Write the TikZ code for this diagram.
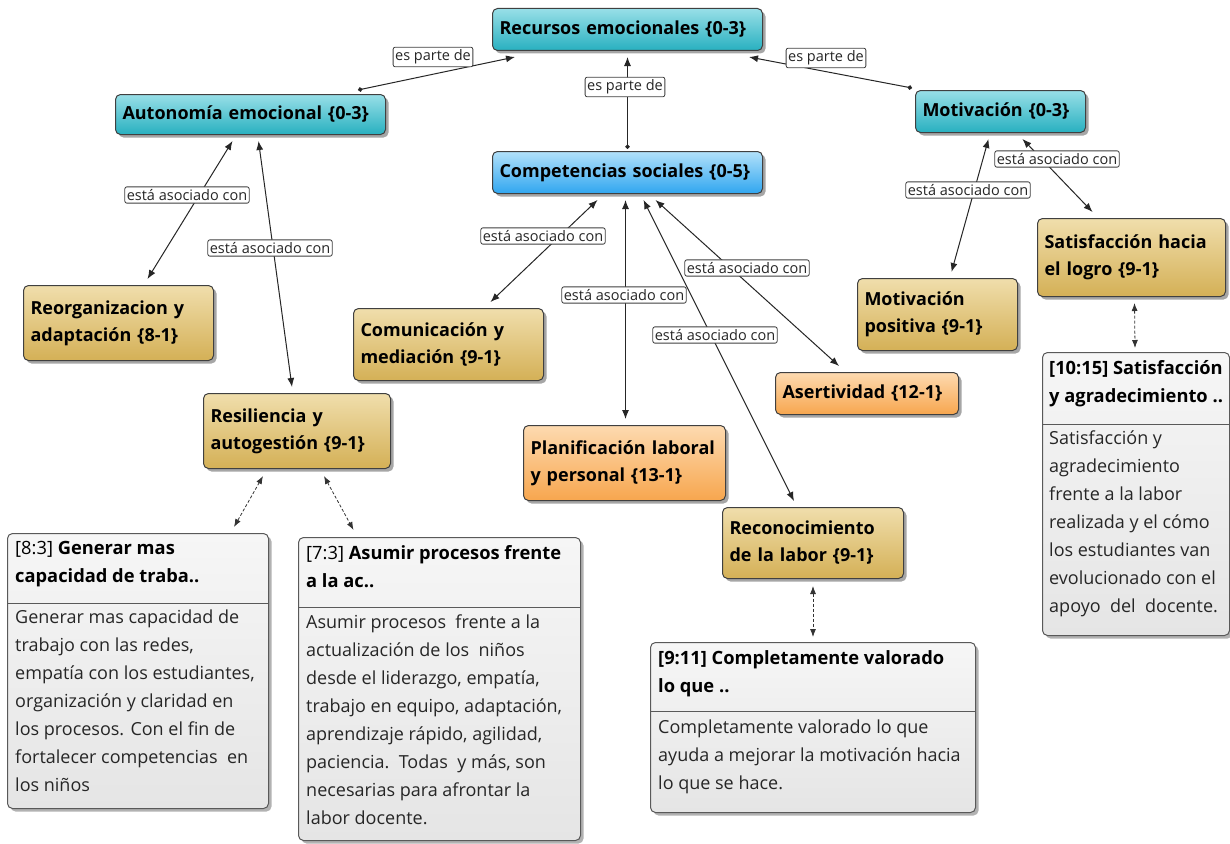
\documentclass[tikz,border=0pt]{standalone}
\usepackage{fontspec}
\setmainfont{Open Sans}
\setsansfont{Open Sans}
\usetikzlibrary{positioning,arrows.meta,shadows}
\definecolor{cyantop}{RGB}{152,223,231}
\definecolor{cyanbot}{RGB}{40,176,192}
\definecolor{bluetop}{RGB}{178,225,250}
\definecolor{bluebot}{RGB}{48,166,240}
\definecolor{tantop}{RGB}{240,222,172}
\definecolor{tanbot}{RGB}{212,176,86}
\definecolor{orangetop}{RGB}{253,218,176}
\definecolor{orangebot}{RGB}{247,166,78}
\definecolor{memotop}{RGB}{246,246,246}
\definecolor{memobot}{RGB}{229,229,229}
\tikzset{concept/.style={draw=black!75, line width=1pt, rounded corners=5pt, anchor=north west,
    align=left, inner xsep=7pt, inner ysep=4pt,
    drop shadow={shadow xshift=3pt, shadow yshift=-3pt, opacity=0.35, fill=black},
    font=\fontsize{18}{27}\selectfont\bfseries}}
\tikzset{cyanbox/.style={concept, top color=cyantop, bottom color=cyanbot},
  bluebox/.style={concept, top color=bluetop, bottom color=bluebot},
  tanbox/.style={concept, top color=tantop, bottom color=tanbot},
  orangebox/.style={concept, top color=orangetop, bottom color=orangebot}}
\tikzset{memo/.style={draw=black!65, line width=1pt, rounded corners=5pt, anchor=north west,
    top color=memotop, bottom color=memobot,
    drop shadow={shadow xshift=3pt, shadow yshift=-3pt, opacity=0.3, fill=black}},
  memohead/.style={anchor=north west, inner sep=0pt, align=left, font=\fontsize{18.3}{28}\selectfont\bfseries},
  memotext/.style={anchor=north west, inner sep=0pt, align=left, text=black!85, font=\fontsize{18}{28}\selectfont},
  memorule/.style={draw=black!65, line width=1pt}}
\tikzset{lab/.style={draw=black!75, fill=white, rounded corners=2pt, line width=0.8pt,
    inner xsep=2pt, inner ysep=2.5pt, text=black!85, font=\fontsize{14.5}{15}\selectfont},
  rel/.style={draw=black!85, line width=1pt, {Latex[length=9pt,width=7pt]}-{Latex[length=9pt,width=7pt]}},
  part/.style={draw=black!85, line width=1pt, {Circle[length=4.5pt]}-{Latex[length=9pt,width=7pt]}},
  memolink/.style={draw=black!80, line width=0.8pt, dash pattern=on 3pt off 2pt,
    {Latex[length=8pt,width=6pt]}-{Latex[length=8pt,width=6pt]}}}

\begin{document}
\begin{tikzpicture}[x=1pt,y=-1pt]
\useasboundingbox[fill=white] (0,0) rectangle (1230,843);

\node[cyanbox, text width=256pt, minimum height=42pt] (rec) at (492,8) {Recursos emocionales \{0-3\}};
\node[cyanbox, text width=256pt, minimum height=40pt] (auto) at (115,94) {Autonomía emocional \{0-3\}};
\node[cyanbox, text width=156pt, minimum height=42pt] (mot) at (915,90) {Motivación \{0-3\}};
\node[bluebox, text width=256pt, minimum height=42pt] (comp) at (492,151) {Competencias sociales \{0-5\}};
\node[tanbox, text width=176pt, minimum height=75pt] (reorg) at (23,285) {Reorganizacion y\\adaptación \{8-1\}};
\node[tanbox, text width=173pt, minimum height=75pt] (resil) at (203,393) {Resiliencia y\\autogestión \{9-1\}};
\node[tanbox, text width=176pt, minimum height=72pt] (comun) at (353,308) {Comunicación y\\mediación \{9-1\}};
\node[orangebox, text width=188pt, minimum height=75pt] (plan) at (523,425) {Planificación laboral\\y personal \{13-1\}};
\node[orangebox, text width=169pt, minimum height=42pt] (aser) at (775,372) {Asertividad \{12-1\}};
\node[tanbox, text width=167pt, minimum height=71pt] (recon) at (722,507) {Reconocimiento\\de la labor \{9-1\}};
\node[tanbox, text width=146pt, minimum height=72pt] (motpos) at (857,278) {Motivación\\positiva \{9-1\}};
\node[tanbox, text width=174pt, minimum height=78pt] (satis) at (1037,218) {Satisfacción hacia\\el logro \{9-1\}};

% citas
\node[memo, minimum width=261pt, minimum height=275pt] (m83) at (7,533) {};
\node[memohead] (m83h) at ([shift={(8pt,-8pt)}]m83.north west) {{\mdseries[8:3]} Generar mas\\capacidad de traba..};
\coordinate (m83d) at ([yshift=-70pt]m83.north west);
\draw[memorule] (m83d) -- (m83d -| m83.east);
\node[memotext] (m83b) at ([shift={(8pt,-7pt)}]m83d) {Generar mas capacidad de\\trabajo con las redes,\\empatía con los estudiantes,\\organización y claridad en\\los procesos. Con el fin de\\fortalecer competencias\ \ en\\los niños};

\node[memo, minimum width=282pt, minimum height=303pt] (m73) at (298,537) {};
\node[memohead] (m73h) at ([shift={(8pt,-8pt)}]m73.north west) {{\mdseries[7:3]} Asumir procesos frente\\a la ac..};
\coordinate (m73d) at ([yshift=-70pt]m73.north west);
\draw[memorule] (m73d) -- (m73d -| m73.east);
\node[memotext] (m73b) at ([shift={(8pt,-8pt)}]m73d) {Asumir procesos\ \ frente a la\\actualización de los\ \ niños\\desde el liderazgo, empatía,\\trabajo en equipo, adaptación,\\aprendizaje rápido, agilidad,\\paciencia.\ \ Todas\ \ y más, son\\necesarias para afrontar la\\labor docente.};

\node[memo, minimum width=325pt, minimum height=170pt] (m911) at (650,642) {};
\node[memohead] (m911h) at ([shift={(8pt,-8pt)}]m911.north west) {[9:11] Completamente valorado\\lo que ..};
\coordinate (m911d) at ([yshift=-69pt]m911.north west);
\draw[memorule] (m911d) -- (m911d -| m911.east);
\node[memotext] (m911b) at ([shift={(8pt,-9pt)}]m911d) {Completamente valorado lo que\\ayuda a mejorar la motivación hacia\\lo que se hace.};

\node[memo, minimum width=187pt, minimum height=283pt] (m1015) at (1042,352) {};
\node[memohead] (m1015h) at ([shift={(7pt,-8pt)}]m1015.north west) {[10:15] Satisfacción\\y agradecimiento ..};
\coordinate (m1015d) at ([yshift=-72pt]m1015.north west);
\draw[memorule] (m1015d) -- (m1015d -| m1015.east);
\node[memotext] (m1015b) at ([shift={(7pt,-7pt)}]m1015d) {Satisfacción y\\agradecimiento\\frente a la labor\\realizada y el cómo\\los estudiantes van\\evolucionado con el\\apoyo\ \ del\ \ docente.};

% enlaces
\draw[part] ([xshift=-28pt,yshift=4pt]auto.north east) -- ([xshift=23pt,yshift=-6pt]rec.south west);
\draw[part] ([yshift=2pt]comp.north) -- ([yshift=-6pt]rec.south);
\draw[part] ([xshift=-3pt,yshift=2pt]mot.north west) -- ([xshift=-14pt,yshift=-6pt]rec.south east);
\draw[rel] ([xshift=-18pt,yshift=-6pt]auto.south) -- ([xshift=29pt,yshift=6pt]reorg.north);
\draw[rel] ([xshift=8pt,yshift=-6pt]auto.south) -- ([xshift=-5pt,yshift=6pt]resil.north);
\draw[rel] ([xshift=-30pt,yshift=-6pt]comp.south) -- ([xshift=42pt,yshift=6pt]comun.north);
\draw[rel] ([xshift=-2pt,yshift=-6pt]comp.south) -- ([xshift=1pt,yshift=6pt]plan.north);
\draw[rel] ([xshift=16pt,yshift=-6pt]comp.south) -- ([xshift=-19pt,yshift=6pt]recon.north);
\draw[rel] ([xshift=28pt,yshift=-6pt]comp.south) -- ([xshift=-28pt,yshift=6pt]aser.north);
\draw[rel] ([xshift=-12pt,yshift=-6pt]mot.south) -- ([xshift=14pt,yshift=6pt]motpos.north);
\draw[rel] ([xshift=22pt,yshift=-6pt]mot.south) -- ([xshift=-39pt,yshift=6pt]satis.north);

\draw[memolink] ([xshift=-34pt,yshift=-7pt]resil.south) -- ([xshift=96pt,yshift=6pt]m83.north);
\draw[memolink] ([xshift=27pt,yshift=-7pt]resil.south) -- ([xshift=-86pt,yshift=7pt]m73.north);
\draw[memolink] ([yshift=-7pt]recon.south) -- ([yshift=5pt]m911.north);
\draw[memolink] ([xshift=3pt,yshift=-6pt]satis.south) -- ([xshift=-1pt,yshift=4pt]m1015.north);

\foreach \n/\x/\y in {1/433/57, 2/625/87, 3/826/58}
  \node[lab] (p\n) at (\x,\y) {es parte de};
\foreach \n/\x/\y in {1/187/195, 2/270/248, 3/543/236, 4/624/295, 5/747/268, 6/715/335, 7/968/190, 8/1057/159}
  \node[lab] (a\n) at (\x,\y) {está asociado con};
\end{tikzpicture}
\end{document}
